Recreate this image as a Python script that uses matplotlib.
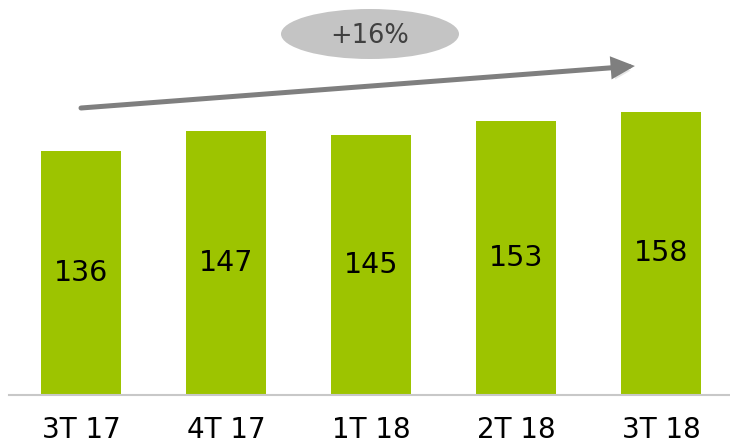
import matplotlib.pyplot as plt
import matplotlib.patheffects as pe
from matplotlib.patches import Ellipse

# 数据
quarters = ['3T 17', '4T 17', '1T 18', '2T 18', '3T 18']
values = [136, 147, 145, 153, 158]
growth_label = '+16%'

plt.rcParams['font.family'] = ['DejaVu Sans']

fig = plt.figure(figsize=(7.3, 4.46), dpi=100)
ax = fig.add_axes([0, 0, 1, 1])

# 像素到数据的映射: 柱间距145px, 1单位=1.794px, 基线在y=395px
px_per_unit = 1.794
ax.set_xlim(-81 / 145, (730 - 81) / 145)
ax.set_ylim(-(446 - 395) / px_per_unit, 395 / px_per_unit)
ax.axis('off')

x = list(range(len(quarters)))
ax.bar(x, values, width=0.556, color='#9dc400', zorder=2)

# 基线
ax.axhline(0, xmin=9 / 730, xmax=1, color='#c8c8c8', linewidth=1.5, zorder=3)

# 柱内数值
for xi, v in zip(x, values):
    ax.text(xi, v / 2, str(v), ha='center', va='center', fontsize=20.5, color='black', zorder=4)

# 类别标签
for xi, q in zip(x, quarters):
    ax.text(xi, -19.5, q, ha='center', va='center', fontsize=20, color='black')

# 增长箭头
arrow = ax.annotate('', xy=(3.82, (395 - 66) / px_per_unit), xytext=(0, (395 - 108) / px_per_unit),
                    arrowprops=dict(arrowstyle='-|>,head_length=1.15,head_width=0.55',
                                    color='#7f7f7f', lw=3.6, shrinkA=0, shrinkB=0,
                                    joinstyle='miter'))
arrow.arrow_patch.set_path_effects([pe.SimplePatchShadow(offset=(1, -3), shadow_rgbFace='#c8c8c8', alpha=0.45),
                                    pe.Normal()])

# 椭圆标签
ell = Ellipse((370 / 730, 1 - 34 / 446), 178 / 730, 50 / 446, transform=fig.transFigure,
              facecolor='#c4c4c4', edgecolor='none')
fig.patches.append(ell)
fig.text(370 / 730, 1 - 36 / 446, growth_label, ha='center', va='center', fontsize=18.5, color='#404040')

fig.savefig('out.png', dpi=100)
